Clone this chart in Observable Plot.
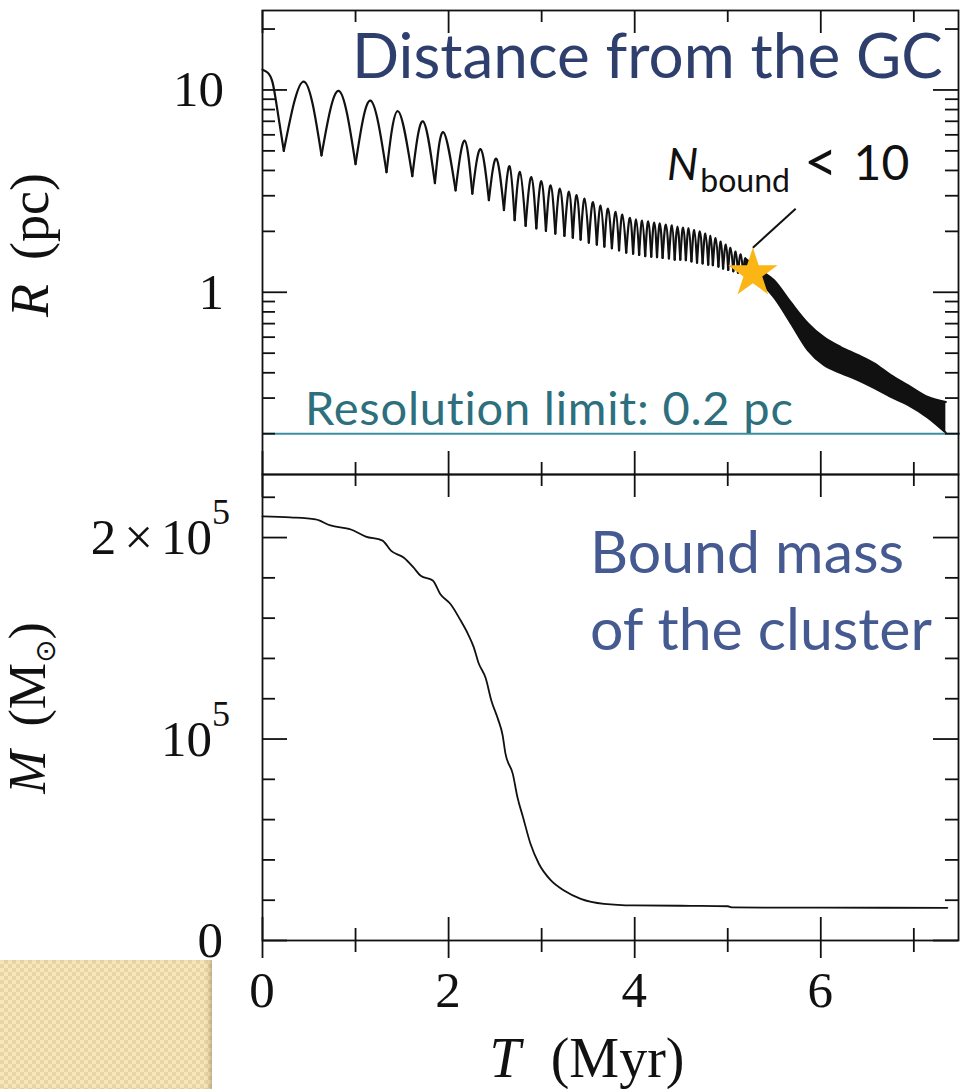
<!DOCTYPE html>
<html><head><meta charset="utf-8">
<script src="https://cdn.jsdelivr.net/npm/d3@7"></script>
<script src="https://cdn.jsdelivr.net/npm/@observablehq/plot@0.6"></script>
<style>
html,body{margin:0;padding:0;background:#fff;}
#wrap{position:relative;width:960px;height:1089px;overflow:hidden;background:#fff;}
#wrap svg{position:absolute;left:0;overflow:visible;}
#deco{position:absolute;left:0;top:960px;width:212px;height:129px;
 background-color:#f7e6bc;
 background-image:conic-gradient(#e9d4a3 25%, #f7e6bc 0 50%, #e9d4a3 0 75%, #f7e6bc 0);
 background-size:8px 8px;
 box-shadow: inset -5px 0 5px -3px rgba(140,120,80,0.55);}
</style></head>
<body><div id="wrap"><div id="deco"></div></div>
<script>
// ---------- axes / ticks ----------
const xDomain = [0, 7.48];
const majorT = [0, 2, 4, 6];
const minorT = [1, 3, 5, 7];
const xTickLabels = ["0", "2", "4", "6"];

const rDomain = [0.1257, 24.7];
const rMajor = [1, 10];
const rMinor = [0.2, 0.3, 0.4, 0.5, 0.6, 0.7, 0.8, 0.9, 2, 3, 4, 5, 6, 7, 8, 9, 20];
const rTickLabels = ["1", "10"];

const mDomain = [0, 231300];
const mMajor = [0, 100000, 200000];
const mMinor = [20000, 40000, 60000, 80000, 120000, 140000, 160000, 180000, 220000];

const resolutionLimit = 0.2;

// ---------- R(T): distance from the GC ----------
const startT = [0, 0.054, 0.108, 0.161, 0.229];
const startR = [12.6, 12.2, 10.9, 7.9, 5.0];

const troughT = [0.229, 0.634, 1.0, 1.333, 1.61, 1.853, 2.075, 2.255, 2.433, 2.595, 2.71,
  2.828, 2.943, 3.046, 3.147, 3.245, 3.335, 3.419, 3.507, 3.593, 3.674, 3.755, 3.832, 3.909,
  3.983, 4.048, 4.113, 4.178, 4.24, 4.30, 4.368, 4.43, 4.49, 4.55, 4.61, 4.67, 4.73, 4.79,
  4.84, 4.90, 4.95, 5.005, 5.06, 5.11, 5.165, 5.215];
const troughR = [5.0, 4.75, 4.3, 3.92, 3.75, 3.46, 3.19, 3.07, 2.85, 2.55, 2.27,
  2.13, 2.07, 2.01, 1.95, 1.90, 1.86, 1.82, 1.76, 1.72, 1.68, 1.65, 1.61, 1.57,
  1.55, 1.53, 1.51, 1.50, 1.49, 1.48, 1.47, 1.45, 1.45, 1.44, 1.42, 1.40, 1.39, 1.37,
  1.36, 1.34, 1.31, 1.29, 1.27, 1.25, 1.23, 1.20];

const peakT = [0.444, 0.820, 1.161, 1.455, 1.724, 1.943, 2.172, 2.344, 2.513, 2.656,
  2.767, 2.889, 2.997, 3.097, 3.197, 3.294, 3.376, 3.462, 3.552, 3.634, 3.713, 3.796, 3.868,
  3.949, 4.016, 4.08, 4.145, 4.21, 4.27, 4.335, 4.40, 4.46, 4.52, 4.58, 4.64, 4.70, 4.76,
  4.815, 4.87, 4.925, 4.98, 5.03, 5.085, 5.14, 5.19];
const peakR = [11.0, 9.9, 8.85, 7.85, 7.0, 6.18, 5.62, 5.1, 4.57, 4.2,
  3.93, 3.71, 3.54, 3.38, 3.25, 3.14, 3.02, 2.90, 2.79, 2.68, 2.59, 2.50, 2.42,
  2.33, 2.29, 2.26, 2.24, 2.21, 2.19, 2.16, 2.14, 2.11, 2.09, 2.07, 2.03, 2.00, 1.95,
  1.90, 1.85, 1.78, 1.72, 1.66, 1.59, 1.54, 1.47];

// dense oscillation after N_bound < 10: envelope of the band
const bandT  = [5.19, 5.355, 5.495, 5.677, 5.86, 6.032, 6.215, 6.398, 6.57, 6.753, 6.935, 7.151, 7.344];
const bandHi = [1.47, 1.28, 1.15, 0.893, 0.704, 0.600, 0.536, 0.490, 0.447, 0.390, 0.348, 0.304, 0.287];
const bandLo = [1.20, 1.11, 0.945, 0.704, 0.518, 0.437, 0.399, 0.368, 0.337, 0.304, 0.278, 0.240, 0.202];

const starT = [5.27], starR = [1.24];
const leaderT = [5.27, 5.73], leaderR = [1.66, 2.59];

// ---------- M(T): bound mass ----------
const massT = [0, 0.30, 0.57, 0.73, 0.95, 1.11, 1.29, 1.38, 1.52, 1.62, 1.70, 1.83, 1.91, 2.02,
  2.13, 2.21, 2.27, 2.32, 2.40, 2.46, 2.53, 2.58, 2.61, 2.69, 2.74, 2.80, 2.88, 2.97, 3.10,
  3.24, 3.42, 3.67, 3.99, 4.6, 5.0, 5.05, 6.0, 7.36];
const massM = [210500, 210000, 209000, 206000, 204000, 200500, 198500, 193500, 190000, 185300,
  181000, 178700, 172000, 167000, 158800, 152000, 145600, 138000, 130000, 119000, 110000,
  102000, 93000, 82700, 71100, 61200, 48000, 38100, 29800, 24800, 20700, 18200, 17400,
  17200, 17000, 16400, 16300, 16200];

// ---------- build tables ----------
const cycles = [];
startT.forEach((t, i) => cycles.push({t, r: startR[i], g: 0}));
peakT.forEach((t, k) => {
  cycles.push({t: troughT[k], r: troughR[k], g: k + 1});
  cycles.push({t, r: peakR[k], g: k + 1});
  cycles.push({t: troughT[k + 1], r: troughR[k + 1], g: k + 1});
});
const band = bandT.map((t, i) => ({t, lo: bandLo[i], hi: bandHi[i]}));
const mass = massT.map((t, i) => ({t, m: massM[i]}));
const star = starT.map((t, i) => ({t, r: starR[i]}));
const leader = [{x1: leaderT[0], y1: leaderR[0], x2: leaderT[1], y2: leaderR[1]}];

// ---------- styles ----------
const W = 960, ML = 262, MR = 2;
const innerW = W - ML - MR;
const teal = "#3b8fa1", tealText = "#2d6f7d", navy = "#2f3f6d", blue2 = "#455a90";
const serif = "'Liberation Serif', 'DejaVu Serif', serif";
const sans = "Lato, 'Open Sans', sans-serif";
const ink = "#111";
const FW = 1.8;

// ---------- top panel ----------
const topH = 474, topMT = 10;
const topInner = topH - topMT;
const topPlot = Plot.plot({
  width: W, height: topH, marginTop: topMT, marginBottom: 0, marginLeft: ML, marginRight: MR,
  x: {domain: xDomain, axis: null},
  y: {type: "log", domain: rDomain, axis: null},
  style: {overflow: "visible", background: "transparent"},
  marks: [
    Plot.line(cycles, {x: "t", y: "r", z: "g", curve: "natural", stroke: ink, strokeWidth: 2.2}),
    Plot.areaY(band, {x: "t", y1: "lo", y2: "hi", fill: ink, curve: "monotone-x"}),
    Plot.line(band, {x: "t", y: "hi", stroke: ink, strokeWidth: 2, curve: "monotone-x"}),
    Plot.line(band, {x: "t", y: "lo", stroke: ink, strokeWidth: 2, curve: "monotone-x"}),
    Plot.ruleY([resolutionLimit], {stroke: teal, strokeWidth: 2, insetRight: -2}),
    Plot.ruleX(majorT, {x: d => d, insetBottom: topInner - 23, stroke: ink, strokeWidth: FW}),
    Plot.ruleX(minorT, {x: d => d, insetBottom: topInner - 12, stroke: ink, strokeWidth: FW}),
    Plot.ruleX(majorT, {x: d => d, insetTop: topInner - 23, stroke: ink, strokeWidth: FW}),
    Plot.ruleX(minorT, {x: d => d, insetTop: topInner - 12, stroke: ink, strokeWidth: FW}),
    Plot.ruleY(rMajor, {y: d => d, insetRight: innerW - 25, stroke: ink, strokeWidth: FW}),
    Plot.ruleY(rMinor, {y: d => d, insetRight: innerW - 13, stroke: ink, strokeWidth: FW}),
    Plot.ruleY(rMajor, {y: d => d, insetLeft: innerW - 25, stroke: ink, strokeWidth: FW}),
    Plot.ruleY(rMinor, {y: d => d, insetLeft: innerW - 13, stroke: ink, strokeWidth: FW}),
    Plot.frame({stroke: ink, strokeWidth: FW}),
    Plot.link(leader, {x1: "x1", y1: "y1", x2: "x2", y2: "y2", stroke: ink, strokeWidth: 2}),
    Plot.dot(star, {x: "t", y: "r", symbol: "star", r: 15.5, fill: "#fbb514", stroke: "none"})
  ]
});
topPlot.style.top = "0px";

// ---------- bottom panel ----------
const botTop = 474, botH = 1089 - botTop, botMB = 1089 - 940;
const botInner = botH - botMB;
const botPlot = Plot.plot({
  width: W, height: botH, marginTop: 0, marginBottom: botMB, marginLeft: ML, marginRight: MR,
  x: {domain: xDomain, axis: null},
  y: {domain: mDomain, axis: null},
  style: {overflow: "visible", background: "transparent"},
  marks: [
    Plot.line(mass, {x: "t", y: "m", curve: "monotone-x", stroke: ink, strokeWidth: 1.8}),
    Plot.ruleX(majorT, {x: d => d, insetBottom: botInner - 23, stroke: ink, strokeWidth: FW}),
    Plot.ruleX(minorT, {x: d => d, insetBottom: botInner - 12, stroke: ink, strokeWidth: FW}),
    Plot.ruleX(majorT, {x: d => d, insetTop: botInner - 23, insetBottom: -18, stroke: ink, strokeWidth: FW}),
    Plot.ruleX(minorT, {x: d => d, insetTop: botInner - 12, insetBottom: -12, stroke: ink, strokeWidth: FW}),
    Plot.ruleY(mMajor, {y: d => d, insetRight: innerW - 25, stroke: ink, strokeWidth: FW}),
    Plot.ruleY(mMinor, {y: d => d, insetRight: innerW - 13, stroke: ink, strokeWidth: FW}),
    Plot.ruleY(mMajor, {y: d => d, insetLeft: innerW - 25, stroke: ink, strokeWidth: FW}),
    Plot.ruleY(mMinor, {y: d => d, insetLeft: innerW - 13, stroke: ink, strokeWidth: FW}),
    Plot.frame({stroke: ink, strokeWidth: FW})
  ]
});
botPlot.style.top = botTop + "px";

const wrap = document.getElementById("wrap");
wrap.appendChild(topPlot);
wrap.appendChild(botPlot);

// ---------- text helper ----------
function txt(svg, x, y, parts, o) {
  const t = d3.select(svg).append("text").attr("x", x).attr("y", y)
    .attr("font-family", o.family).attr("font-size", o.size)
    .attr("fill", o.fill || ink).attr("text-anchor", o.anchor || "start");
  if (o.rotate) t.attr("transform", `rotate(${o.rotate},${x},${y})`);
  if (o.spacing) t.attr("letter-spacing", o.spacing);
  for (const p of parts) {
    const s = t.append("tspan").text(p.text);
    if (p.italic) s.attr("font-style", "italic");
    if (p.size) s.attr("font-size", p.size);
    if (p.dx) s.attr("dx", p.dx);
    if (p.dy) s.attr("dy", p.dy);
    if (p.family) s.attr("font-family", p.family);
  }
  return t;
}

const tx = topPlot.scale("x"), ty = topPlot.scale("y");
const bx = botPlot.scale("x"), by = botPlot.scale("y");

rMajor.forEach((v, i) => txt(topPlot, 224, ty.apply(v) + 17, [{text: rTickLabels[i]}], {family: serif, size: 51, anchor: "end"}));
txt(topPlot, 48, 245, [{text: "R", italic: true}, {text: "(pc)", dx: 24}], {family: serif, size: 54, anchor: "middle", rotate: -90});

txt(topPlot, 352, 78, [{text: "Distance from the GC"}], {family: sans, size: 62, fill: navy});
txt(topPlot, 305, 425, [{text: "Resolution limit: 0.2 pc"}], {family: sans, size: 47, fill: tealText, spacing: 0.8});
txt(topPlot, 667, 180, [{text: "N", italic: true}, {text: "bound", size: 32, dy: 12, dx: 2}, {text: "<", size: 58, dy: -10, dx: 14}, {text: "10", size: 48, dy: -2, dx: 16}], {family: sans, size: 44, fill: ink});

txt(botPlot, 230, by.apply(200000) + 17, [{text: "2"}, {text: "×", dx: 8}, {text: "10", dx: 8}, {text: "5", size: 36, dy: -30}], {family: serif, size: 51, anchor: "end"});
txt(botPlot, 230, by.apply(100000) + 17, [{text: "10"}, {text: "5", size: 36, dy: -30}], {family: serif, size: 51, anchor: "end"});
txt(botPlot, 223, by.apply(0) + 17, [{text: "0"}], {family: serif, size: 51, anchor: "end"});
txt(botPlot, 45, 234, [{text: "M", italic: true}, {text: "(M", dx: 24}, {text: "⊙", size: 28, dy: 10, family: "'DejaVu Sans', sans-serif"}, {text: ")", dy: -10}], {family: serif, size: 52, anchor: "middle", rotate: -90});

majorT.forEach((v, i) => txt(botPlot, bx.apply(v), 1007 - botTop, [{text: xTickLabels[i]}], {family: serif, size: 51, anchor: "middle"}));
txt(botPlot, 587, 1077 - botTop, [{text: "T", italic: true}, {text: "(Myr)", dx: 30}], {family: serif, size: 56, anchor: "middle"});

txt(botPlot, 590, 573 - botTop, [{text: "Bound mass"}], {family: sans, size: 59, fill: blue2});
txt(botPlot, 590, 650 - botTop, [{text: "of the cluster"}], {family: sans, size: 59, fill: blue2});
</script></body></html>
